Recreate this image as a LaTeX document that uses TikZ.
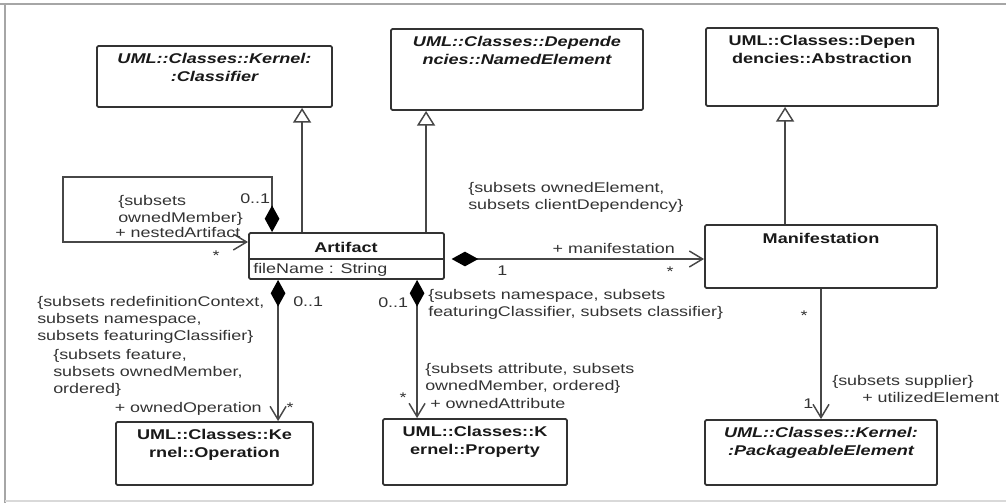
\documentclass[tikz,border=0pt]{standalone}
\usepackage{fontspec}
\setmainfont{Liberation Sans}[FakeStretch=1.28]
\usetikzlibrary{arrows.meta,calc}
\newcommand\lblsize{\fontsize{10.5pt}{12.75pt}\selectfont}
\newcommand\clssize{\fontsize{10.6pt}{13.2pt}\selectfont}
\tikzset{
  cls/.style={draw=black!80, line width=1.4pt, rounded corners=1pt, fill=white, inner sep=0pt},
  box/.style 2 args={minimum width=#1*0.75pt, minimum height=#2*0.75pt},
  cname/.style={anchor=north, font=\clssize\bfseries, align=center, inner sep=0pt, text=black!90},
  lbl/.style={font=\lblsize, inner sep=0pt, text=black!80, align=left},
  conn/.style={draw=black!72, line width=1.1pt, line join=miter},
  gen/.style={conn, -{Triangle[open, width=13.5pt, length=11pt, fill=white]}},
  nav/.style={conn, -{Straight Barb[length=10pt, width=12pt]}},
  compo/.style={conn, {Diamond[length=20pt, width=11pt, color=black, fill=black]}-{Straight Barb[length=10pt, width=12pt]}},
}
\begin{document}
\begin{tikzpicture}[x=0.75pt,y=-0.75pt]
\useasboundingbox (0,0) rectangle (1006,503);
% frame
\draw[black!35, line width=0.8pt] (0,4) -- (1006,4);
\draw[black!35, line width=0.8pt] (5,4) -- (5,503);
\draw[black!15, line width=0.8pt] (5,501) -- (1006,501);

% classes
\node[cls, box={235}{61}] (clf) at (214.5,76.5) {};
\node[cname, font=\clssize\bfseries\itshape] (clfn) at ($(clf.north)+(0,8)$) {UML::Classes::Kernel:\\:Classifier};
\node[cls, box={252}{81}] (ne) at (517,69.5) {};
\node[cname, font=\clssize\bfseries\itshape] (nen) at ($(ne.north)+(0,8)$) {UML::Classes::Depende\\ncies::NamedElement};
\node[cls, box={232}{78}] (abs) at (822,67) {};
\node[cname] (absn) at ($(abs.north)+(0,8)$) {UML::Classes::Depen\\dencies::Abstraction};
\node[cls, box={195}{46}] (art) at (346.5,256) {};
\draw[black!80, line width=1.1pt] (art.west |- 0,259) -- (art.east |- 0,259);
\node[cname, anchor=base] (artn) at (346,252) {Artifact};
\node[lbl, anchor=base west] (artattr) at (253,273) {fileName : String};
\node[cls, box={232}{63}] (man) at (821,256.5) {};
\node[cname, anchor=base] (mann) at (821,243) {Manifestation};
\node[cls, box={197}{63}] (op) at (214.5,453.5) {};
\node[cname] (opn) at ($(op.north)+(0,8)$) {UML::Classes::Ke\\rnel::Operation};
\node[cls, box={184}{66}] (prop) at (475,452) {};
\node[cname] (propn) at ($(prop.north)+(0,8)$) {UML::Classes::K\\ernel::Property};
\node[cls, box={232}{65}] (pe) at (821,452.5) {};
\node[cname, font=\clssize\bfseries\itshape] (pen) at ($(pe.north)+(0,8)$) {UML::Classes::Kernel:\\:PackageableElement};

% connectors
\coordinate (g1) at ($(art.north west)+(54,0)$);
\draw[gen] (g1) -- (g1 |- clf.south);
\coordinate (g2) at ($(art.north west)+(178,0)$);
\draw[gen] (g2) -- (g2 |- ne.south);
\coordinate (g3) at ($(man.north west)+(81,0)$);
\draw[gen] (g3) -- (g3 |- abs.south);

\coordinate (s1) at ($(art.north west)+(24,0)$);
\coordinate (s2) at (63,177);
\coordinate (s3) at ($(art.west)+(0,-14)$);
\draw[compo] (s1) |- (s2) |- (s3);

\coordinate (m1) at ($(art.east)+(0,3)$);
\draw[compo, shorten <=5pt] (m1) -- (m1 -| man.west);

\coordinate (o1) at ($(art.south west)+(30,0)$);
\draw[compo] (o1) -- (o1 |- op.north);
\coordinate (p1) at ($(art.south west)+(169,0)$);
\draw[compo] (p1) -- (p1 |- prop.north);
\draw[nav] (man.south) -- (pe.north);

% labels
\node[lbl, anchor=base west] (l1) at (240,203) {0..1};
\node[lbl, anchor=north west] (l2) at (118,195) {\{subsets\\ownedMember\}};
\node[lbl, anchor=base west] (l2b) at (115,237) {+ nestedArtifact};
\node[lbl, anchor=base] (l3) at (216,260) {*};
\node[lbl, anchor=north west] (l4) at (468,182) {\{subsets ownedElement,\\subsets clientDependency\}};
\node[lbl, anchor=base east] (l5) at (675,253) {+ manifestation};
\node[lbl, anchor=base west] (l6) at (497,275) {1};
\node[lbl, anchor=base] (l7) at (670,276) {*};
\node[lbl, anchor=north west] (l8) at (37,296) {\{subsets redefinitionContext,\\subsets namespace,\\subsets featuringClassifier\}};
\node[lbl, anchor=base west] (l9) at (293,306) {0..1};
\node[lbl, anchor=north west] (l10) at (53,349) {\{subsets feature,\\subsets ownedMember,\\ordered\}};
\node[lbl, anchor=base east] (l11) at (262,412) {+ ownedOperation};
\node[lbl, anchor=base] (l12) at (290,412) {*};
\node[lbl, anchor=base west] (l13) at (378,307) {0..1};
\node[lbl, anchor=north west] (l14) at (428,289) {\{subsets namespace, subsets\\featuringClassifier, subsets classifier\}};
\node[lbl, anchor=north west] (l15) at (425,363) {\{subsets attribute, subsets\\ownedMember, ordered\}};
\node[lbl, anchor=base west] (l16) at (430,408) {+ ownedAttribute};
\node[lbl, anchor=base] (l17) at (403,402) {*};
\node[lbl, anchor=base] (l18) at (804,320) {*};
\node[lbl, anchor=base west] (l19) at (832,385) {\{subsets supplier\}};
\node[lbl, anchor=base west] (l19b) at (862,402) {+ utilizedElement};
\node[lbl, anchor=base west] (l20) at (803,408) {1};
\end{tikzpicture}
\end{document}
